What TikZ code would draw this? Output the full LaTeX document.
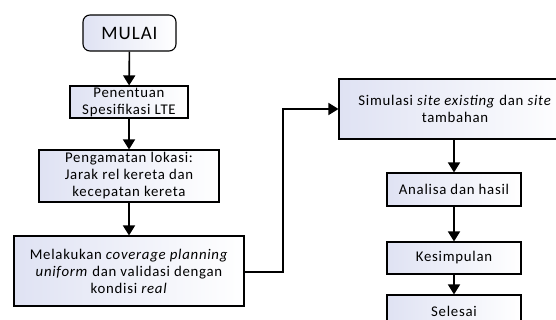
\documentclass[tikz,border=0pt]{standalone}
\usepackage{fontspec}
\setmainfont{Carlito}[LetterSpace=5]
\usetikzlibrary{arrows.meta}
\definecolor{boxshade}{HTML}{DFE2F3}
\tikzset{
  box/.style={draw=black, line width=1.1pt, rectangle, align=center,
    left color=boxshade, right color=white, inner sep=0pt,
    font=\fontsize{14.8}{17}\selectfont},
  startbox/.style={box, rounded corners=7pt, font=\fontsize{19}{21}\selectfont},
  flow/.style={line width=1.6pt, -{Triangle[length=10pt,width=12pt]}}
}
\begin{document}
\begin{tikzpicture}[x=1pt,y=-1pt]
\useasboundingbox (0,0) rectangle (556,320);
\clip (0,0) rectangle (556,320);
\node[startbox, minimum width=93pt, minimum height=36pt] (mulai) at (129.5,33) {MULAI};
\node[box, minimum width=118pt, minimum height=32pt] (spek) at (129,102) {Penentuan\\Spesifikasi LTE};
\node[box, minimum width=180pt, minimum height=52pt] (lokasi) at (129,176) {Pengamatan lokasi:\\Jarak rel kereta dan\\kecepatan kereta};
\node[box, minimum width=230pt, minimum height=70pt] (cov) at (129,271) {Melakukan \textit{coverage planning}\\\textit{uniform} dan validasi dengan\\kondisi \textit{real}};
\node[box, minimum width=232pt, minimum height=60pt] (sim) at (455,109) {Simulasi \textit{site existing} dan \textit{site}\\tambahan};
\node[box, minimum width=134pt, minimum height=33pt] (anl) at (454,189.5) {Analisa dan hasil};
\node[box, minimum width=134pt, minimum height=32pt] (kes) at (454,258) {Kesimpulan};
\node[box, minimum width=134pt, minimum height=33pt] (sel) at (454,311.5) {Selesai};
\coordinate (c1) at (283,272);
\coordinate (c2) at (283,109);
\draw[flow] (mulai) -- (spek);
\draw[flow] (spek) -- (lokasi);
\draw[flow] (lokasi) -- (cov);
\draw[flow] (cov.east |- c1) -- (c1) -- (c2) -- (sim.west);
\draw[flow] (sim.south -| anl) -- (anl);
\draw[flow] (anl) -- (kes);
\draw[flow] (kes) -- (sel);
\end{tikzpicture}
\end{document}
